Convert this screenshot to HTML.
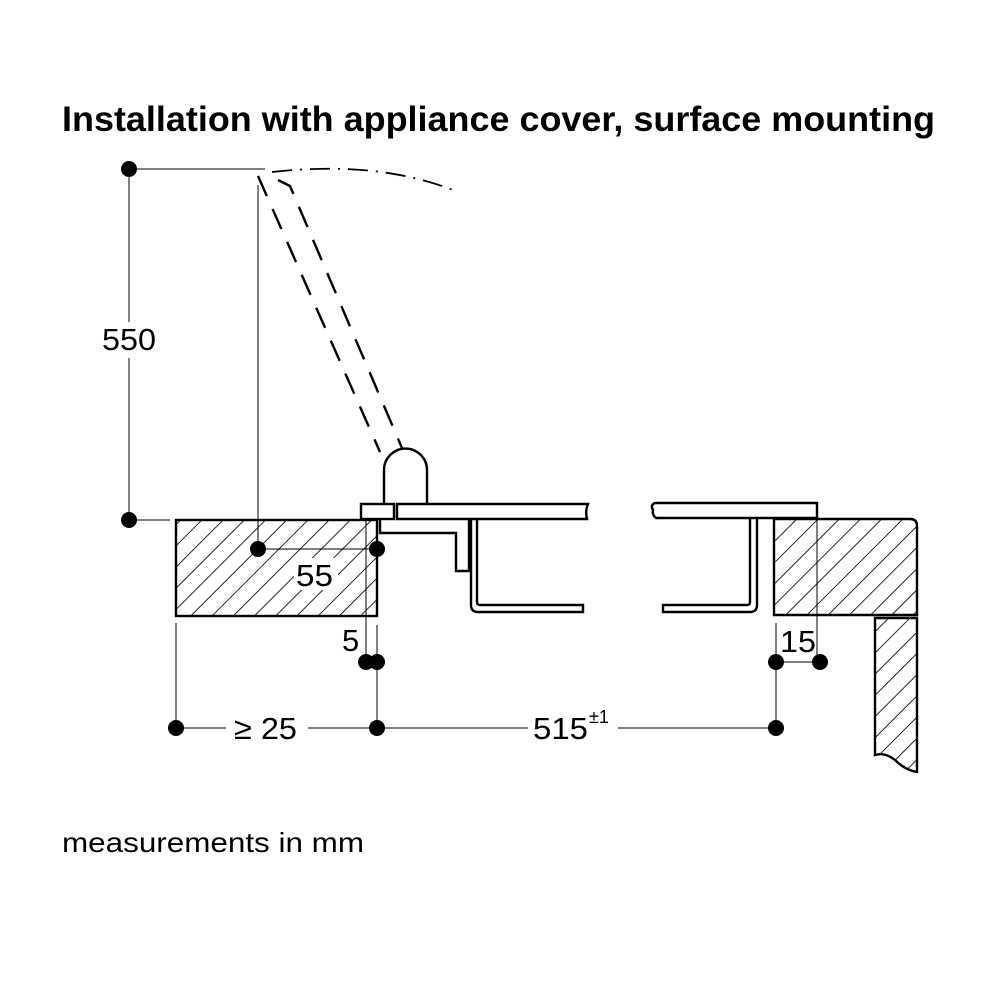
<!DOCTYPE html>
<html><head><meta charset="utf-8"><style>html,body{margin:0;padding:0;background:#fff}svg{display:block}</style></head>
<body>
<svg width="1000" height="1000" viewBox="0 0 1000 1000" xmlns="http://www.w3.org/2000/svg" font-family="Liberation Sans, Arial, sans-serif">
<defs>
<pattern id="h" width="15" height="15" patternUnits="userSpaceOnUse" patternTransform="rotate(45)">
<line x1="0" y1="0" x2="0" y2="15" stroke="#000" stroke-width="1.7"/>
</pattern>
</defs>
<text x="62" y="131" font-size="35" font-weight="bold" textLength="873" lengthAdjust="spacingAndGlyphs">Installation with appliance cover, surface mounting</text>

<g stroke="#000" fill="none">
<line x1="129" y1="169" x2="129" y2="520" stroke-width="1"/>
<line x1="129" y1="169" x2="265" y2="169" stroke-width="1"/>
<line x1="129" y1="520" x2="170" y2="520" stroke-width="1"/>
<line x1="258" y1="185" x2="258" y2="549" stroke-width="1"/>
<path d="M258,176 L380,452" stroke-width="2.4" stroke-dasharray="22,14"/>
<path d="M278,180 L290,186 L402,448" stroke-width="2.4" stroke-dasharray="22,14"/>
<path d="M272,172 Q380,160 458,192" stroke-width="1.8" stroke-dasharray="20,8,2,8"/>

<rect x="176" y="520" width="201" height="96" fill="url(#h)" stroke-width="2.4"/>
<line x1="258" y1="549" x2="377" y2="549" stroke-width="1"/>
<line x1="366" y1="520" x2="366" y2="662" stroke-width="1"/>
<line x1="377" y1="625" x2="377" y2="728" stroke-width="1"/>
<line x1="176" y1="623" x2="176" y2="728" stroke-width="1"/>

<path d="M384,505 L384,470 A21.5,21.5 0 0 1 427,470 L427,505" stroke-width="2.4" fill="#fff"/>
<rect x="361" y="504" width="33" height="15" stroke-width="2.4" fill="#fff"/>
<path d="M397,504 L588,504 Q585,511 587,519 L397,519 Z" stroke-width="2.4" fill="#fff"/>
<path d="M380,519 L380,533 L456,533 L456,571 L469,571 L469,519" stroke-width="2.4"/>
<path d="M471,519 L471,605 Q471,612 478,612 L583,612 L583,605 L480,605 Q477,605 477,602 L477,519" stroke-width="2.4"/>

<path d="M817,503 L655,503 Q650,505 653,510 Q652,515 656,518 L817,518 Z" stroke-width="2.4" fill="#fff"/>
<path d="M757,519 L757,605 Q757,612 750,612 L663,612 L663,605 L747,605 Q750,605 750,602 L750,519" stroke-width="2.4"/>
<path d="M774,519 L910,519 Q917,519 917,526 L917,615 L774,615 Z" fill="url(#h)" stroke-width="2.4"/>
<path d="M875,618 L917,618 L917,772 Q905,770 895,760 Q885,752 875,755 Z" fill="url(#h)" stroke-width="2.4"/>
<line x1="817" y1="510" x2="817" y2="662" stroke-width="1"/>
<line x1="776" y1="623" x2="776" y2="728" stroke-width="1"/>
<line x1="776" y1="662" x2="820" y2="662" stroke-width="1"/>

<line x1="176" y1="728" x2="226" y2="728" stroke-width="1"/>
<line x1="308" y1="728" x2="377" y2="728" stroke-width="1"/>
<line x1="377" y1="728" x2="528" y2="728" stroke-width="1"/>
<line x1="618" y1="728" x2="776" y2="728" stroke-width="1"/>
</g>

<g fill="#000">
<circle cx="129" cy="169" r="8"/>
<circle cx="129" cy="520" r="8"/>
<circle cx="258" cy="549" r="8"/>
<circle cx="377" cy="549" r="8"/>
<circle cx="366" cy="662" r="8"/>
<circle cx="377" cy="662" r="8"/>
<circle cx="776" cy="662" r="8"/>
<circle cx="820" cy="662" r="8"/>
<circle cx="176" cy="728" r="8"/>
<circle cx="377" cy="728" r="8"/>
<circle cx="776" cy="728" r="8"/>
</g>

<g font-size="31" fill="#000">
<rect x="100" y="322" width="58" height="36" fill="#fff"/>
<text x="102" y="350" textLength="54" lengthAdjust="spacingAndGlyphs">550</text>
<rect x="294" y="558" width="44" height="32" fill="#fff"/>
<text x="296" y="586" textLength="37" lengthAdjust="spacingAndGlyphs">55</text>
<text x="342" y="651">5</text>
<text x="780" y="652" textLength="36" lengthAdjust="spacingAndGlyphs">15</text>
<text x="234" y="739" textLength="63" lengthAdjust="spacingAndGlyphs">≥ 25</text>
<text x="533" y="739" textLength="55" lengthAdjust="spacingAndGlyphs">515</text>
<text x="589" y="723" font-size="18">±1</text>
<text x="62" y="852" font-size="28" textLength="302" lengthAdjust="spacingAndGlyphs">measurements in mm</text>
</g>
</svg>
</body></html>
